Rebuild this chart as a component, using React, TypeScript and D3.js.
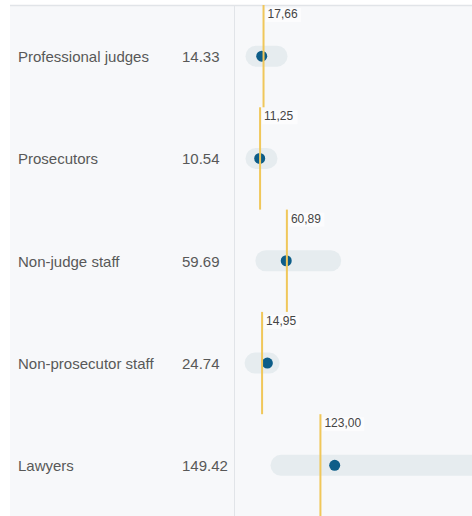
import React from "react";
import * as d3 from "d3";

const categories = ["Professional judges", "Prosecutors", "Non-judge staff", "Non-prosecutor staff", "Lawyers"];
const values = [14.33, 10.54, 59.69, 24.74, 149.42];
const references = [17.66, 11.25, 60.89, 14.95, 123.0];
const refLabels = ["17,66", "11,25", "60,89", "14,95", "123,00"];
const rangeMin = [3.7, 3.7, 22, 2, 50];
const rangeMax = [42.6, 24, 142, 28, 500];

const W = 472;
const H = 516;
const TOP = 5;
const FONT = "'Liberation Sans', Arial, Helvetica, sans-serif";

export default function App() {
  const x = d3.scaleLinear().domain([0, 400]).range([254, 470]);
  const y = d3.scaleBand<string>().domain(categories).range([TOP, 516.5]).padding(0);
  const bw = y.bandwidth();
  return (
    <svg width={W} height={H} style={{ position: "absolute", left: 0, top: 0 }} fontFamily={FONT}>
      <rect x={0} y={0} width={W} height={H} fill="#ffffff" />
      <rect x={10} y={TOP} width={W - 10} height={H - TOP} fill="#f7f8fa" />
      <line x1={10} x2={W} y1={TOP + 0.5} y2={TOP + 0.5} stroke="#e1e4e8" strokeWidth={1.5} />
      <line x1={234.5} x2={234.5} y1={TOP} y2={H} stroke="#e1e4e8" strokeWidth={1} />
      <defs>
        <clipPath id="plot">
          <rect x={235} y={TOP} width={W - 235} height={H - TOP} />
        </clipPath>
      </defs>
      {categories.map((c, i) => {
        const top = y(c)!;
        const cy = top + bw / 2;
        const rx = x(references[i]);
        return (
          <g key={c}>
            <text x={18} y={cy} dy="0.4em" fontSize={15} fill="#585858">{c}</text>
            <text x={182} y={cy} dy="0.4em" fontSize={15} fill="#585858">{values[i].toFixed(2)}</text>
            <g clipPath="url(#plot)">
              <line x1={x(rangeMin[i])} x2={x(rangeMax[i])} y1={cy} y2={cy} stroke="#e6ecef" strokeWidth={21} strokeLinecap="round" />
              <circle cx={x(values[i])} cy={cy} r={5.5} fill="#0d5d88" />
              <line x1={rx} x2={rx} y1={top} y2={top + bw} stroke="#f0c75a" strokeWidth={2} />
              <rect x={rx + 2} y={top + 3} width={refLabels[i].length * 6.3 + 4} height={14} fill="#ffffff" opacity={0.6} />
              <text x={rx + 4} y={top + 13} fontSize={12} fill="#444">{refLabels[i]}</text>
            </g>
          </g>
        );
      })}
    </svg>
  );
}
